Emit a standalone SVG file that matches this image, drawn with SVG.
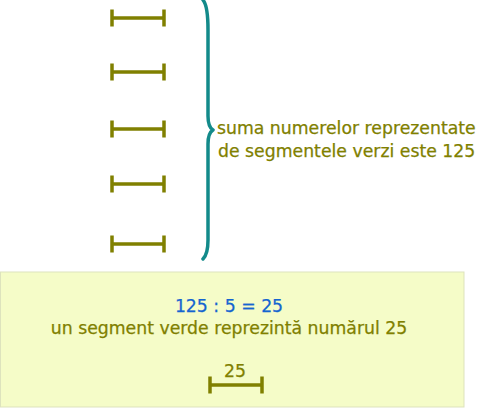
<svg xmlns="http://www.w3.org/2000/svg" width="479" height="408" viewBox="0 0 479 408">
<defs>
<style>
.seg{stroke:#808000;stroke-width:3.5;fill:none;stroke-linecap:butt}
.t{font-family:"DejaVu Sans","Verdana",sans-serif;font-size:17.3px;fill:#808000;stroke:#808000;stroke-width:0.25}
.b{fill:#1565d0;stroke:#1565d0}
</style>
<g id="s">
<path class="seg" d="M0 0H54M1 -8.5V8.5M53 -8.5V8.5"/>
</g>
</defs>
<rect width="479" height="408" fill="#ffffff"/>
<g id="segments">
<use href="#s" x="111" y="18"/>
<use href="#s" x="111" y="72"/>
<use href="#s" x="111" y="129"/>
<use href="#s" x="111" y="184"/>
<use href="#s" x="111" y="244"/>
</g>
<g id="connectors">
<path d="M203 0 Q208 6 208 30 V116 Q208 127 213 130 Q208 133 208 144 V240 Q208 254 203 259" fill="none" stroke="#138a8a" stroke-width="3.5" stroke-linecap="round" stroke-linejoin="round"/>
</g>
<g id="label">
<text class="t" x="217" y="134">suma numerelor reprezentate</text>
<text class="t" x="218" y="157">de segmentele verzi este 125</text>
</g>
<g id="box">
<rect x="0.5" y="272" width="463.5" height="135" fill="#f5fcc8" stroke="#dde3bd" stroke-width="1"/>
<text class="t b" x="229" y="312" text-anchor="middle">125 : 5 = 25</text>
<text class="t" x="229" y="334" text-anchor="middle">un segment verde reprezintă numărul 25</text>
<text class="t" x="235" y="377" text-anchor="middle">25</text>
<use href="#s" x="209" y="385"/>
</g>
</svg>
